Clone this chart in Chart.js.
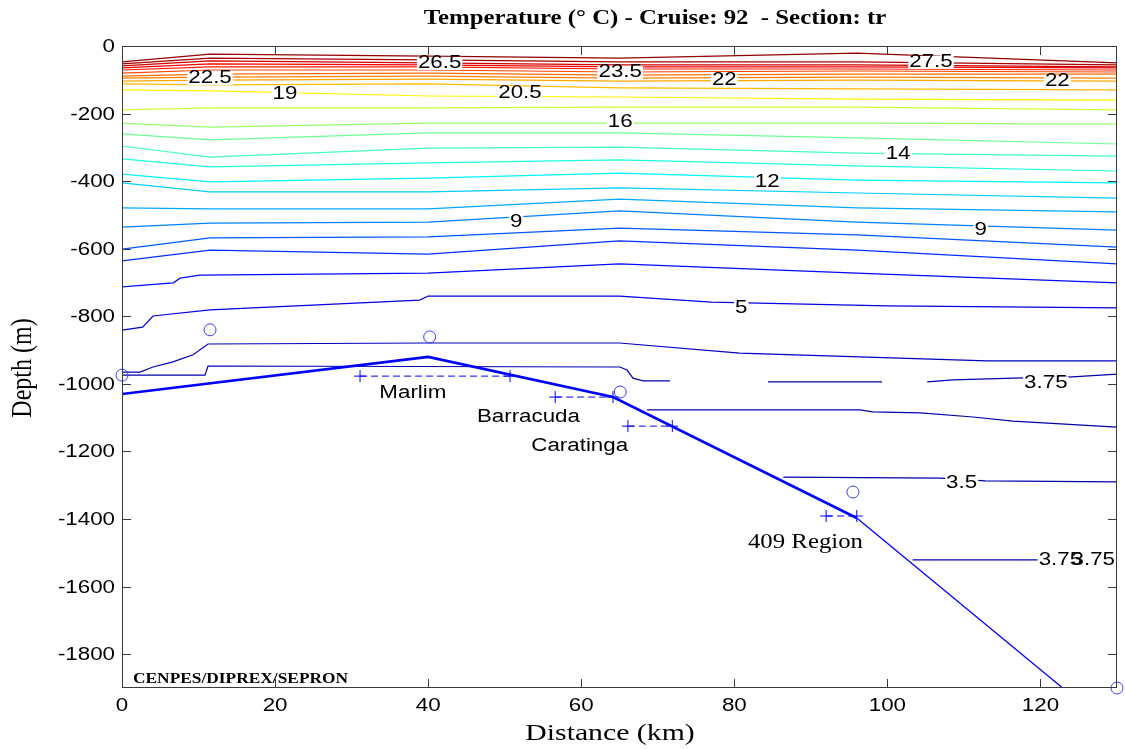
<!DOCTYPE html>
<html>
<head>
<meta charset="utf-8">
<script src="https://cdn.jsdelivr.net/npm/chart.js@4.4.1/dist/chart.umd.min.js"></script>
<style>
  html, body { margin: 0; background: #fff; }
</style>
</head>
<body>
<canvas id="section" width="1125" height="749"></canvas>
<script>
// ---------- data ----------
const stationKm = [0, 11.5, 40, 65, 96, 130];

// isotherms read at the stations (depth, m)
const isoLevels = [28, 27.5, 26.5, 25.5, 24.5, 23.5, 22.5, 22, 21, 20.5, 19, 17.5, 16, 15, 14, 13, 12, 11, 10, 9, 8, 7];
const isoDepths = [
    [-47, -24, -30, -36, -21, -50],
    [-53, -36, -41, -47, -47, -56],
    [-59, -44, -50, -56, -56, -62],
    [-65, -53, -56, -62, -62, -65],
    [-71, -62, -62, -68, -68, -71],
    [-80, -71, -71, -77, -74, -77],
    [-89, -83, -80, -86, -83, -83],
    [-95, -92, -89, -95, -92, -95],
    [-104, -101, -98, -104, -101, -104],
    [-112, -115, -112, -124, -127, -130],
    [-130, -133, -148, -151, -157, -160],
    [-189, -183, -183, -181, -181, -189],
    [-228, -240, -228, -228, -228, -231],
    [-260, -278, -257, -257, -272, -290],
    [-296, -329, -302, -299, -317, -326],
    [-334, -358, -346, -337, -355, -370],
    [-379, -402, -391, -376, -397, -405],
    [-405, -432, -432, -420, -435, -450],
    [-479, -482, -482, -453, -479, -491],
    [-536, -524, -521, -488, -521, -545],
    [-601, -568, -565, -539, -559, -595],
    [-636, -604, -616, -577, -604, -645]
];

// deeper isotherms with their own sample points
const t6Km = [0, 6.7, 7.6, 10.2, 40, 65, 96, 130];
const t6Depth = [-713, -701, -687, -678, -672, -645, -672, -701];
const t5Km = [0, 2.7, 4.05, 11.5, 38.9, 40, 65, 77, 100, 130];
const t5Depth = [-841, -832, -799, -781, -752, -740, -740, -758, -769, -775];
const t4Km = [0, 2.35, 4.05, 6.66, 9.28, 11.24, 40, 65, 80.7, 113, 130];
const t4Depth = [-965, -965, -950, -935, -914, -882, -879, -879, -909, -932, -932];
const t375Km = [0, 10.84, 11.24, 65.06, 65.98, 66.76, 68.07, 71.6, 78, 84.4, 99.3, 102, 105.2, 108.6, 117.7, 123.6, 130];
const t375Depth = [-974, -974, -947, -950, -959, -983, -991, -991, null, -994, -994, null, -994, -988, -982, -980, -971];
const t36Km = [68.6, 96.4, 98.1, 104.3, 111.2, 116.4, 130];
const t36Depth = [-1077, -1077, -1083, -1086, -1098, -1110, -1128];
const t35Km = [86.4, 106.9, 112.8, 130];
const t35Depth = [-1276, -1279, -1287, -1290];
const t375bKm = [103.3, 130];
const t375bDepth = [-1521, -1521];

// sea floor
const bottomKm = [0, 40, 64.15, 96];
const bottomDepth = [-1030, -920, -1039, -1397];
const slopeKm = [96, 122.9];
const slopeDepth = [-1397, -1900];

// CTD stations
const stationMarkKm = [0, 11.5, 40.2, 65.1, 95.5, 130];
const stationMarkDepth = [-974, -840, -861, -1024, -1320, -1900];

// fields
const fieldNames = ['Marlim', 'Barracuda', 'Caratinga', '409 Region'];
const fieldKm = [[31.1, 50.7], [56.6, 64.15], [66.1, 71.9], [92.0, 96.0]];
const fieldDepth = [-977, -1039, -1125, -1391];
const fieldLabelKm = [38.0, 53.1, 59.8, 89.3];
const fieldLabelDepth = [-1027, -1097, -1183, -1470];

// contour labels
const labelText = ['22.5', '19', '26.5', '20.5', '23.5', '22', '16', '9', '12', '27.5', '22', '14', '9', '5', '3.75', '3.5', '3.75', '3.75'];
const labelKm = [11.5, 21.3, 41.5, 52.0, 65.1, 78.7, 65.1, 51.5, 84.3, 105.7, 122.2, 101.4, 112.2, 80.9, 120.7, 109.7, 122.6, 126.9];
const labelDepth = [-95, -142, -50, -139, -77, -101, -225, -521, -402, -47, -104, -320, -545, -775, -997, -1293, -1521, -1521];

// axes
const xTicks = [0, 20, 40, 60, 80, 100, 120];
const yTicks = [0, -200, -400, -600, -800, -1000, -1200, -1400, -1600, -1800];

// ---------- helpers ----------
const STRETCH = 1.24;

function jet(v) {
    const t = (v - 2.5) / 26;
    const c = k => Math.round(255 * Math.max(0, Math.min(1, 1.5 - Math.abs(4 * t - k))));
    return `rgb(${c(3)},${c(2)},${c(1)})`;
}

function pts(xs, ys) {
    return xs.map((x, i) => ({ x: x, y: ys[i] }));
}

function isoLine(level, data) {
    return {
        data: data,
        borderColor: jet(level),
        borderWidth: 1.2,
        pointRadius: 0,
        tension: 0,
        order: 5
    };
}

function wideText(ctx, text, x, y, font, align, baseline) {
    ctx.save();
    ctx.font = font;
    ctx.translate(x, y);
    ctx.scale(STRETCH, 1);
    ctx.textAlign = align;
    ctx.textBaseline = baseline || 'middle';
    ctx.fillStyle = '#000';
    ctx.fillText(text, 0, 0);
    ctx.restore();
}

// ---------- datasets ----------
const datasets = [];

datasets.push({
    data: pts(bottomKm, bottomDepth),
    borderColor: '#0000ff', borderWidth: 2.6, pointRadius: 0, order: 0
});
datasets.push({
    data: pts(slopeKm, slopeDepth),
    borderColor: '#0000ff', borderWidth: 1.3, pointRadius: 0, order: 0
});
datasets.push({
    data: pts(stationMarkKm, stationMarkDepth),
    showLine: false, pointStyle: 'circle', pointRadius: 6,
    pointBorderColor: '#3b3bff', pointBackgroundColor: 'rgba(0,0,0,0)', pointBorderWidth: 1,
    clip: false, order: 0
});
fieldKm.forEach((xs, i) => {
    datasets.push({
        data: pts(xs, [fieldDepth[i], fieldDepth[i]]),
        borderColor: '#0000ff', borderWidth: 1, borderDash: [7, 4],
        pointStyle: 'cross', pointRadius: 6, pointBorderColor: '#0000ff', pointBorderWidth: 1,
        order: 1
    });
});

isoLevels.forEach((lv, i) => datasets.push(isoLine(lv, pts(stationKm, isoDepths[i]))));
datasets.push(isoLine(6, pts(t6Km, t6Depth)));
datasets.push(isoLine(5, pts(t5Km, t5Depth)));
datasets.push(isoLine(4.2, pts(t4Km, t4Depth)));
datasets.push(isoLine(3.75, pts(t375Km, t375Depth)));
datasets.push(isoLine(3.6, pts(t36Km, t36Depth)));
datasets.push(isoLine(3.5, pts(t35Km, t35Depth)));
datasets.push(isoLine(3.75, pts(t375bKm, t375bDepth)));

// ---------- drawing plugin: frame, ticks, texts ----------
const sectionFrame = {
    id: 'sectionFrame',
    afterDatasetsDraw(chart) {
        const ctx = chart.ctx;
        const xs = chart.scales.x;
        const ys = chart.scales.y;
        const labelFont = '18px "Liberation Sans", Arial, sans-serif';

        // contour labels break the lines
        labelText.forEach((t, i) => {
            const px = xs.getPixelForValue(labelKm[i]);
            const py = ys.getPixelForValue(labelDepth[i]);
            ctx.save();
            ctx.font = labelFont;
            const w = ctx.measureText(t).width * STRETCH;
            ctx.fillStyle = '#fff';
            ctx.fillRect(px - w / 2 - 1, py - 6, w + 2, 13);
            ctx.restore();
        });
        labelText.forEach((t, i) => {
            wideText(ctx, t, xs.getPixelForValue(labelKm[i]), ys.getPixelForValue(labelDepth[i]), labelFont, 'center');
        });

        // field names
        fieldNames.forEach((n, i) => {
            const font = i === 3 ? '20px "Liberation Serif", "Times New Roman", serif'
                                 : '18px "Liberation Sans", Arial, sans-serif';
            wideText(ctx, n, xs.getPixelForValue(fieldLabelKm[i]), ys.getPixelForValue(fieldLabelDepth[i]), font, 'center');
        });
    },
    afterDraw(chart) {
        const ctx = chart.ctx;
        const a = chart.chartArea;
        const xs = chart.scales.x;
        const ys = chart.scales.y;
        const tickFont = '18px "Liberation Sans", Arial, sans-serif';
        const tl = 9;

        ctx.save();
        ctx.strokeStyle = '#3a3a3a';
        ctx.lineWidth = 1;
        ctx.strokeRect(a.left + 0.5, a.top + 0.5, a.right - a.left - 1, a.bottom - a.top - 1);
        ctx.beginPath();
        xTicks.forEach(v => {
            const p = Math.round(xs.getPixelForValue(v)) + 0.5;
            ctx.moveTo(p, a.bottom); ctx.lineTo(p, a.bottom - tl);
            ctx.moveTo(p, a.top); ctx.lineTo(p, a.top + tl);
        });
        yTicks.forEach(v => {
            const p = Math.round(ys.getPixelForValue(v)) + 0.5;
            ctx.moveTo(a.left, p); ctx.lineTo(a.left + tl, p);
            ctx.moveTo(a.right, p); ctx.lineTo(a.right - tl, p);
        });
        ctx.stroke();
        ctx.restore();

        xTicks.forEach(v => wideText(ctx, String(v), xs.getPixelForValue(v), a.bottom + 18, tickFont, 'center'));
        yTicks.forEach(v => wideText(ctx, String(v), a.left - 7, ys.getPixelForValue(v) + 1, tickFont, 'right'));

        // titles
        wideText(ctx, 'Temperature (\u00B0 C) - Cruise: 92  - Section: tr', 655, 24,
                 'bold 20px "Liberation Serif", "Times New Roman", serif', 'center', 'alphabetic');
        wideText(ctx, 'Distance (km)', 610, 740, '24px "Liberation Serif", "Times New Roman", serif', 'center', 'alphabetic');
        wideText(ctx, 'CENPES/DIPREX/SEPRON', a.left + 11, a.bottom - 5,
                 'bold 14px "Liberation Serif", "Times New Roman", serif', 'left', 'alphabetic');

        ctx.save();
        ctx.translate(23, 368);
        ctx.rotate(-Math.PI / 2);
        ctx.scale(1, STRETCH);
        ctx.font = '24px "Liberation Serif", "Times New Roman", serif';
        ctx.textAlign = 'center';
        ctx.textBaseline = 'middle';
        ctx.fillStyle = '#000';
        ctx.fillText('Depth (m)', 0, 0);
        ctx.restore();
    }
};

new Chart(document.getElementById('section'), {
    type: 'line',
    data: { datasets: datasets },
    options: {
        responsive: false,
        animation: false,
        layout: { padding: { left: 122, right: 8, top: 46, bottom: 61 } },
        plugins: { legend: { display: false }, tooltip: { enabled: false } },
        scales: {
            x: { type: 'linear', min: 0, max: 130, display: false },
            y: { type: 'linear', min: -1900, max: 0, display: false }
        }
    },
    plugins: [sectionFrame]
});
</script>
</body>
</html>
